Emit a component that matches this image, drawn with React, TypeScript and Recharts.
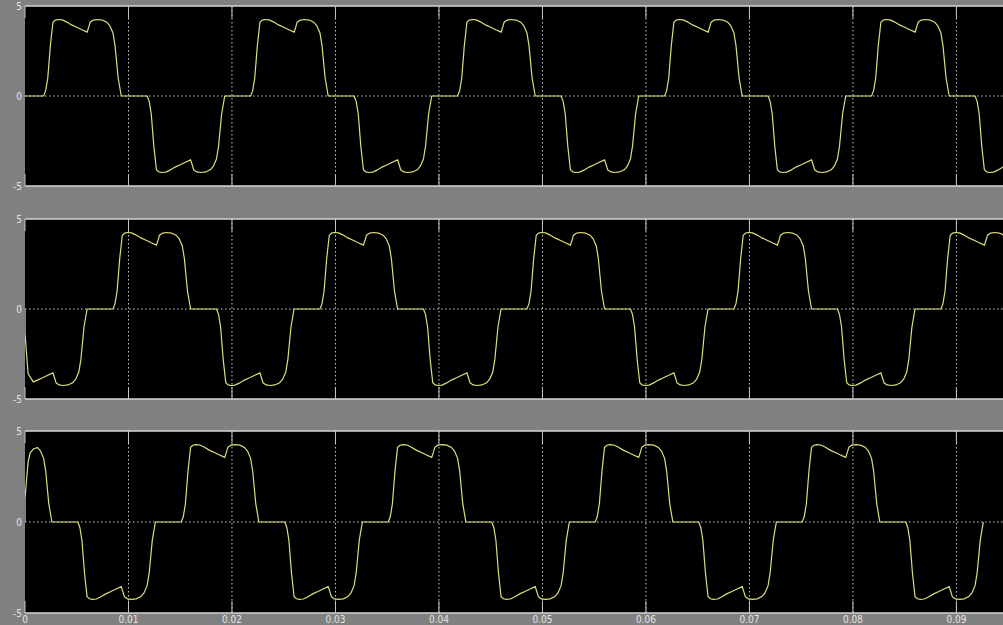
import React from "react";
import { LineChart, Line, XAxis, YAxis, CartesianGrid } from "recharts";

// Axis ticks
const X_TICKS = [0, 0.01, 0.02, 0.03, 0.04, 0.05, 0.06, 0.07, 0.08, 0.09];
const X_TICK_LABELS = ["0", "0.01", "0.02", "0.03", "0.04", "0.05", "0.06", "0.07", "0.08", "0.09"];
const Y_TICKS = [-5, 0, 5];
const Y_TICK_LABELS = ["-5", "0", "5"];
const X_DOMAIN: [number, number] = [0, 0.0945];

// One conduction pulse (time after it leaves zero, level)
const PULSE_OFFSETS = [0, 0.0002, 0.0004, 0.00065, 0.0009, 0.00113, 0.0014, 0.0018, 0.0022, 0.0027, 0.0032, 0.0037, 0.0042, 0.00437, 0.0045, 0.0048, 0.0052, 0.00565, 0.0061, 0.0064, 0.0067, 0.0069, 0.0072, 0.0075];
const PULSE_LEVELS = [0, 0.3, 1.0, 2.8, 4.1, 4.22, 4.25, 4.23, 4.12, 3.95, 3.82, 3.68, 3.55, 3.85, 4.1, 4.22, 4.25, 4.22, 4.1, 3.9, 3.5, 2.8, 1.0, 0];

// Phase A (top scope)
const INIT_A: [number, number][] = [[0, 0]];
const STARTS_A = [0.0018, 0.0118, 0.0218, 0.0318, 0.0418, 0.0518, 0.0618, 0.0718, 0.0818, 0.0918];
const SIGNS_A = [1, -1, 1, -1, 1, -1, 1, -1, 1, -1];

// Phase B (middle scope)
const INIT_B: [number, number][] = [[0, 0], [0, -1.35], [0.0003, -3.6], [0.0008, -4.05]];
const STARTS_B = [-0.0015, 0.0085, 0.0185, 0.0285, 0.0385, 0.0485, 0.0585, 0.0685, 0.0785, 0.0885];
const SIGNS_B = [-1, 1, -1, 1, -1, 1, -1, 1, -1, 1];

// Phase C (bottom scope)
const INIT_C: [number, number][] = [[0, 0], [0, 1.3], [0.0003, 3.3], [0.0005, 3.8], [0.0008, 4.0]];
const STARTS_C = [-0.0049, 0.0051, 0.0151, 0.0251, 0.0351, 0.0451, 0.0551, 0.0651, 0.0751, 0.0851];
const SIGNS_C = [1, -1, 1, -1, 1, -1, 1, -1, 1, -1];

type Pt = { t: number; v: number };

function buildSeries(init: [number, number][], starts: number[], signs: number[]): Pt[] {
  const pts: Pt[] = init.map(([t, v]) => ({ t, v }));
  let last = pts.length ? pts[pts.length - 1].t : -Infinity;
  starts.forEach((s, k) => {
    PULSE_OFFSETS.forEach((o, i) => {
      const t = +(s + o).toFixed(6);
      if (t > last) {
        pts.push({ t, v: signs[k] * PULSE_LEVELS[i] });
        last = t;
      }
    });
  });
  return pts;
}

const DATA_A = buildSeries(INIT_A, STARTS_A, SIGNS_A);
const DATA_B = buildSeries(INIT_B, STARTS_B, SIGNS_B);
const DATA_C = buildSeries(INIT_C, STARTS_C, SIGNS_C);

const BG = "#808080";
const TRACE = "#dede7c";
const FRAME = "#d6d6d6";
const TICKC = "#c4c4c4";
const GRID = "#cfcfcf";
const TEXT = "#e4e4e4";
const FONT = "'DejaVu Sans Condensed', 'DejaVu Sans', sans-serif";

function xLabel(v: number) {
  const i = X_TICKS.findIndex((x) => Math.abs(x - v) < 1e-9);
  return i >= 0 ? X_TICK_LABELS[i] : "";
}
function yLabel(v: number) {
  const i = Y_TICKS.findIndex((y) => Math.abs(y - v) < 1e-9);
  return i >= 0 ? Y_TICK_LABELS[i] : "";
}

const EmptyTick = () => <g />;

function Panel({ data, top, showLabels }: { data: Pt[]; top: number; showLabels: boolean }) {
  const height = 200;
  return (
    <div style={{ position: "absolute", left: 0, top, width: 1003, height }}>
      <LineChart
        width={1003}
        height={height}
        data={data}
        margin={{ top: 6, right: 0, bottom: showLabels ? 0 : 14, left: 0 }}
      >
        <CartesianGrid
          xAxisId="t"
          yAxisId="l"
          fill="#000000"
          stroke={GRID}
          strokeDasharray="1.5 2.5"
          horizontalValues={[0]}
          verticalValues={X_TICKS.slice(1)}
        />
        <XAxis
          xAxisId="b"
          type="number"
          dataKey="t"
          domain={X_DOMAIN}
          allowDataOverflow
          ticks={X_TICKS}
          interval={0}
          orientation="bottom"
          mirror
          height={1}
          tick={EmptyTick}
          tickLine={{ stroke: TICKC }}
          tickSize={12}
          axisLine={{ stroke: FRAME, strokeWidth: 1.5 }}
        />
        <XAxis
          xAxisId="t"
          type="number"
          dataKey="t"
          domain={X_DOMAIN}
          allowDataOverflow
          ticks={X_TICKS}
          interval={0}
          orientation="top"
          mirror
          height={1}
          tick={EmptyTick}
          tickLine={{ stroke: TICKC }}
          tickSize={12}
          axisLine={{ stroke: FRAME, strokeWidth: 1.5 }}
        />
        {showLabels && (
          <XAxis
            xAxisId="lab"
            type="number"
            dataKey="t"
            domain={X_DOMAIN}
            allowDataOverflow
            ticks={X_TICKS}
            interval={0}
            orientation="bottom"
            height={12}
            axisLine={false}
            tickLine={false}
            tickSize={0}
            tickMargin={3}
            tickFormatter={xLabel}
            tick={{ fill: TEXT, fontSize: 10, fontFamily: FONT }}
          />
        )}
        <YAxis
          yAxisId="l"
          type="number"
          domain={[-5, 5]}
          ticks={Y_TICKS}
          interval={0}
          width={25}
          axisLine={false}
          tickLine={false}
          tickSize={0}
          tickMargin={3}
          tickFormatter={yLabel}
          tick={{ fill: TEXT, fontSize: 10, fontFamily: FONT }}
        />
        <YAxis
          yAxisId="m"
          type="number"
          domain={[-5, 5]}
          ticks={Y_TICKS}
          interval={0}
          orientation="left"
          mirror
          width={1}
          tick={EmptyTick}
          tickLine={{ stroke: TICKC }}
          tickSize={8}
          axisLine={false}
        />
        <Line
          xAxisId="b"
          yAxisId="l"
          dataKey="v"
          type="linear"
          stroke={TRACE}
          strokeWidth={1.2}
          dot={false}
          activeDot={false}
          isAnimationActive={false}
        />
      </LineChart>
    </div>
  );
}

export default function App() {
  return (
    <div
      style={{
        position: "absolute",
        left: 0,
        top: 0,
        width: 1003,
        height: 625,
        background: BG,
        overflow: "hidden",
      }}
    >
      <Panel data={DATA_A} top={0} showLabels={false} />
      <Panel data={DATA_B} top={213} showLabels={false} />
      <Panel data={DATA_C} top={425} showLabels={true} />
    </div>
  );
}
